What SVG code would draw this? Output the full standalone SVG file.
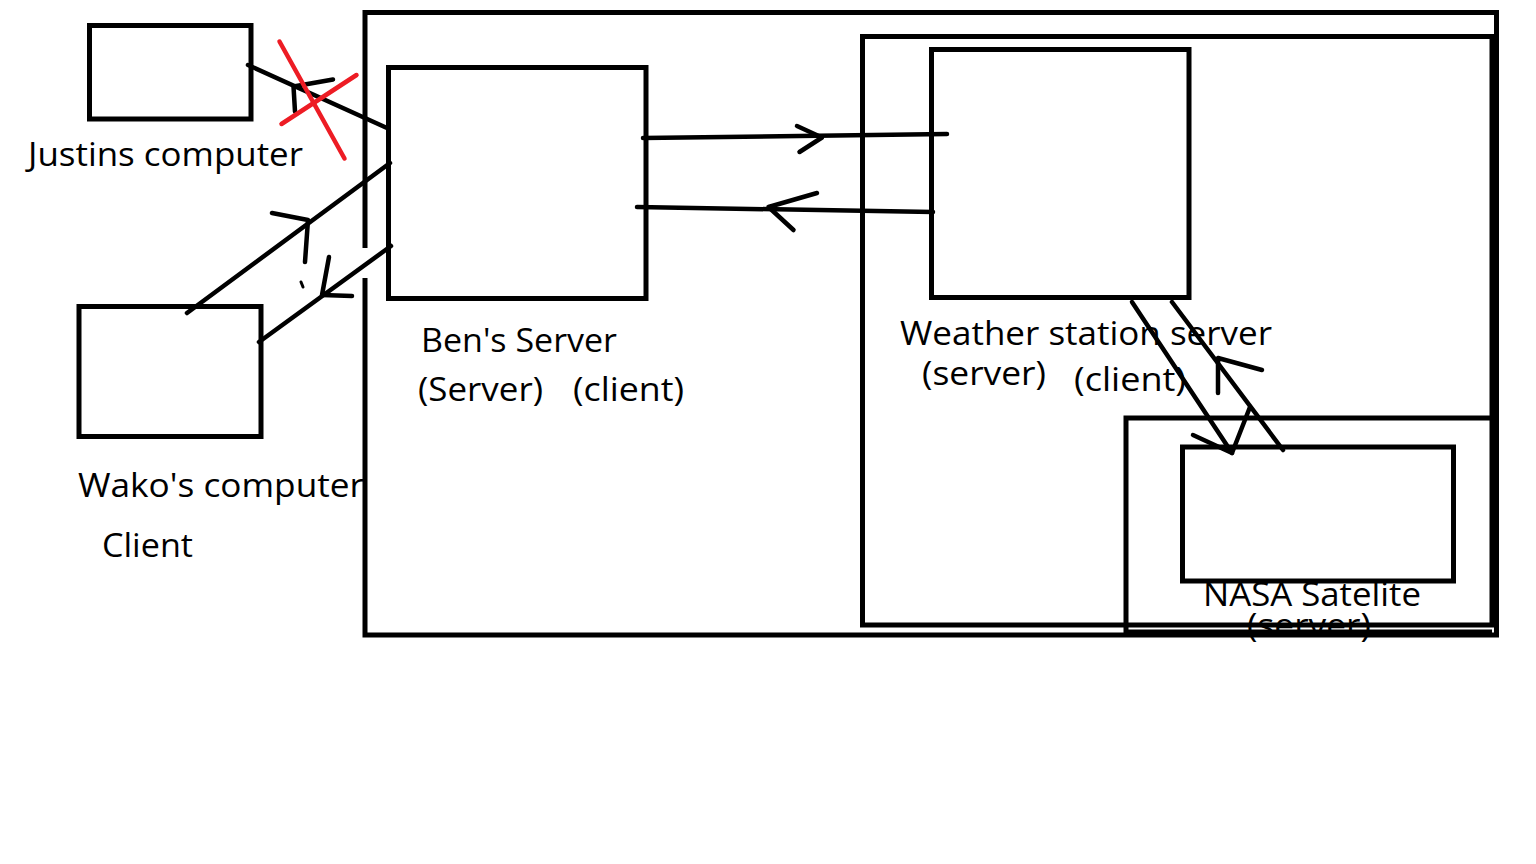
<svg xmlns="http://www.w3.org/2000/svg" width="1536" height="864" viewBox="0 0 1536 864">
<style>
.box{fill:none;stroke:#000;stroke-width:5}
.frame{fill:none;stroke:#000;stroke-width:5}
.ln{fill:none;stroke:#000;stroke-width:4.5;stroke-linecap:round;stroke-linejoin:round}
.x{fill:none;stroke:#ED1C24;stroke-width:4.5;stroke-linecap:round}
.t{font-family:"Open Sans","Noto Sans","DejaVu Sans",sans-serif;font-size:32px;fill:#000}
</style>
<rect width="1536" height="864" fill="#fff"/>
<g id="justin">
<rect class="box" x="89.5" y="25.5" width="161.5" height="93.5"/>
<text class="t" x="28" y="166" textLength="275" lengthAdjust="spacingAndGlyphs">Justins computer</text>
</g>
<g id="wako">
<rect class="box" x="79" y="306.5" width="182" height="130"/>
<text class="t" x="78" y="497" textLength="286" lengthAdjust="spacingAndGlyphs">Wako's computer</text>
<text class="t" x="102" y="557" textLength="91" lengthAdjust="spacingAndGlyphs">Client</text>
</g>
<g id="ben">
<rect class="box" x="388.5" y="67.5" width="257.5" height="231"/>
<text class="t" x="421" y="352" textLength="196" lengthAdjust="spacingAndGlyphs">Ben's Server</text>
<text class="t" x="418" y="401" textLength="125" lengthAdjust="spacingAndGlyphs">(Server)</text>
<text class="t" x="573" y="401" textLength="111" lengthAdjust="spacingAndGlyphs">(client)</text>
</g>
<g id="weather">
<rect class="box" x="931.5" y="49.5" width="257.5" height="248"/>
<text class="t" x="900" y="345" textLength="372" lengthAdjust="spacingAndGlyphs">Weather station server</text>
<text class="t" x="922" y="385" textLength="124" lengthAdjust="spacingAndGlyphs">(server)</text>
<text class="t" x="1074" y="391" textLength="112" lengthAdjust="spacingAndGlyphs">(client)</text>
</g>
<g id="nasa">
<rect class="box" x="1182.5" y="447" width="271" height="134"/>
<text class="t" x="1203" y="606" textLength="218" lengthAdjust="spacingAndGlyphs">NASA Satelite</text>
<text class="t" x="1247" y="637" textLength="124" lengthAdjust="spacingAndGlyphs">(server)</text>
</g>
<g id="system-frame">
<path class="frame" d="M365 248 V12.5 H1496.5 V635 H365 V278"/>
</g>
<g id="weather-frame">
<rect class="frame" x="862.5" y="36.5" width="629.5" height="588.5"/>
</g>
<g id="nasa-frame">
<path class="frame" d="M1492 418 H1126 V632 H1492"/>
</g>
<g id="connectors">
<line class="ln" x1="248" y1="65" x2="387" y2="128"/>
<polyline class="ln" points="333,79.5 293.5,86.5 295,111.5"/>
<line class="ln" x1="187" y1="313" x2="390" y2="163"/>
<polyline class="ln" points="272,213 308,220 305,262"/>
<line class="ln" x1="259" y1="342" x2="391" y2="246"/>
<polyline class="ln" points="329,257 322,295 352,296"/>
<line class="ln" x1="301" y1="282" x2="303" y2="287" style="stroke-width:3"/>
<line class="ln" x1="643" y1="138" x2="947" y2="134"/>
<polyline class="ln" points="797,126 822,137.5 799.5,152"/>
<line class="ln" x1="933" y1="212" x2="637" y2="207"/>
<polyline class="ln" points="817,193 768.5,207 793.5,230"/>
<line class="ln" x1="1132" y1="302" x2="1232" y2="453"/>
<polyline class="ln" points="1193,435 1232,453 1250,407"/>
<line class="ln" x1="1172" y1="302" x2="1283" y2="450"/>
<polyline class="ln" points="1262,370 1218,358 1218,393"/>
<line class="x" x1="279.5" y1="41.5" x2="344.5" y2="158.5"/>
<line class="x" x1="356.5" y1="75" x2="281.5" y2="124"/>
</g>
</svg>
